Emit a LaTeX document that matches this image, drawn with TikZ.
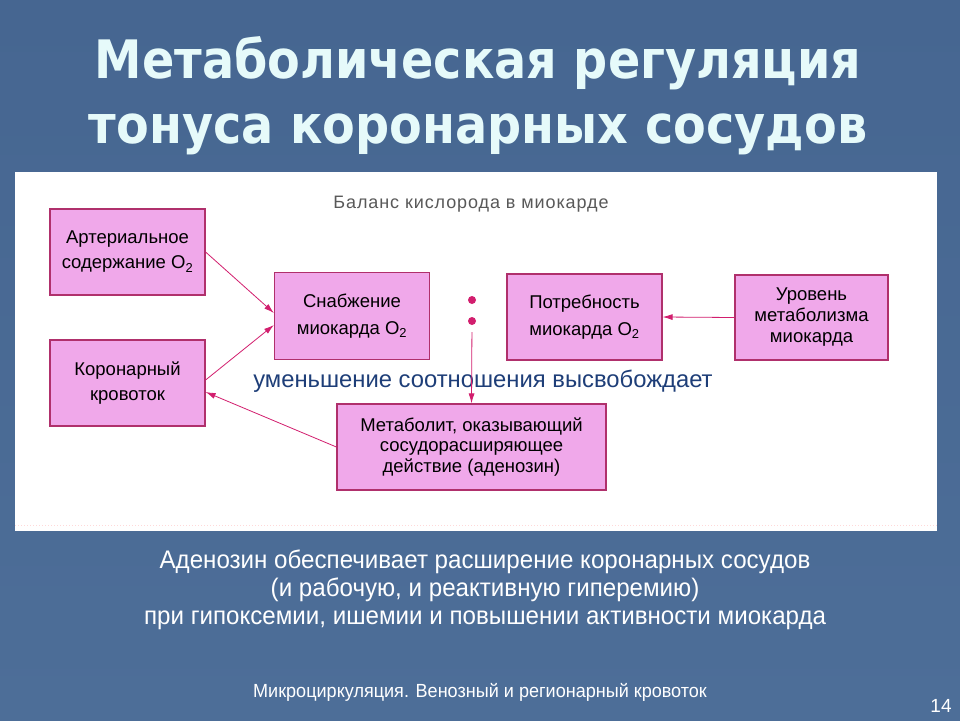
\documentclass[tikz,border=0pt]{standalone}
\usepackage{fontspec}
\setmainfont{Liberation Sans}
\newfontfamily\titlefont[FakeStretch=0.9]{DejaVu Sans}
\newfontfamily\narrowfont[FakeStretch=0.95]{Liberation Sans}
\newfontfamily\spacedfont[LetterSpace=5]{Liberation Sans}
\usetikzlibrary{arrows.meta}
\definecolor{slidebg}{RGB}{77,110,152}
\definecolor{slidebgtop}{RGB}{70,102,145}
\definecolor{titlecol}{RGB}{230,250,250}
\definecolor{boxfill}{RGB}{240,168,234}
\definecolor{boxline}{RGB}{176,48,108}
\definecolor{arrowcol}{RGB}{210,30,110}
\definecolor{notecol}{RGB}{30,62,120}
\tikzset{
  pbox/.style={draw=boxline, line width=1.2pt, fill=boxfill, align=center,
    font=\fontsize{18.5}{25}\selectfont, inner sep=0pt},
  flow/.style={draw=arrowcol, line width=0.8pt, -{Latex[length=10pt,width=6pt]}},
  dotmark/.style={circle, fill=arrowcol, inner sep=0pt, minimum size=8pt}
}
\begin{document}
\begin{tikzpicture}[x=1pt, y=-1pt]
    % slide background
    \shade[top color=slidebgtop, bottom color=slidebg] (0,0) rectangle (960,720);
    \useasboundingbox (0,0) rectangle (960,720);
    % title
    \node[anchor=base, text=titlecol, font=\titlefont\bfseries\fontsize{53}{60}\selectfont] (title1) at (478,78) {Метаболическая регуляция};
    \node[anchor=base, text=titlecol, font=\titlefont\bfseries\fontsize{53}{60}\selectfont] (title2) at (478,143) {тонуса коронарных сосудов};
    % white panel
    \fill[white] (15,172) rectangle (937,531);
    \draw[pink!60, line width=1pt, dotted] (15,525) -- (937,525);
    \node[anchor=base, text=black!65, font=\spacedfont\fontsize{18}{20}\selectfont] (caption) at (471,208) {Баланс кислорода в миокарде};
    % boxes
    \node[pbox, minimum width=155pt, minimum height=86pt] (art) at (127.5,252) {Артериальное\\содержание O\textsubscript{2}};
    \node[pbox, minimum width=155pt, minimum height=86pt] (kor) at (127.5,383) {Коронарный\\кровоток};
    \node[pbox, minimum width=155pt, minimum height=87pt, font=\fontsize{18.5}{27}\selectfont] (supply) at (352,316) {Снабжение\\миокарда O\textsubscript{2}};
    \node[pbox, minimum width=155pt, minimum height=86pt, font=\fontsize{18.5}{27}\selectfont] (demand) at (584.5,317) {Потребность\\миокарда O\textsubscript{2}};
    \node[pbox, minimum width=153pt, minimum height=85pt, font=\fontsize{18.5}{21}\selectfont] (metab) at (811.5,317.5) {Уровень\\метаболизма\\миокарда};
    \node[pbox, minimum width=269pt, minimum height=86pt, font=\fontsize{18.5}{20.5}\selectfont] (adeno) at (471.5,447) {Метаболит, оказывающий\\сосудорасширяющее\\действие (аденозин)};
    % ratio dots
    \node[dotmark] (dot1) at (472,300) {};
    \node[dotmark] (dot2) at (472,321) {};
    \node[anchor=base, text=notecol, font=\fontsize{23.8}{26}\selectfont] (note) at (483,387) {уменьшение соотношения высвобождает};
    % arrows
    \draw[flow] (art.east) -- ([yshift=3pt]supply.west);
    \draw[flow] ([yshift=3pt]kor.east) -- ([yshift=-9pt]supply.west);
    \draw[flow] (metab.west) -- (demand.east);
    \draw[flow, shorten <=7pt] (dot2) -- (adeno.north);
    \draw[flow] (adeno.west) -- ([yshift=-9pt]kor.east);
    % bottom text
    \node[anchor=north, inner sep=0pt, text=white, align=center, font=\narrowfont\fontsize{25.4}{28}\selectfont] (summary) at (485,550) {Аденозин обеспечивает расширение коронарных сосудов\\(и рабочую, и реактивную гиперемию)\\при гипоксемии, ишемии и повышении активности миокарда};
    \node[anchor=base, text=white, font=\narrowfont\fontsize{19}{20}\selectfont] (footer) at (480,697) {Микроциркуляция. Венозный и регионарный кровоток};
    \node[anchor=base, text=white, font=\fontsize{19}{20}\selectfont] (pagenum) at (941,712) {14};
\end{tikzpicture}
\end{document}
